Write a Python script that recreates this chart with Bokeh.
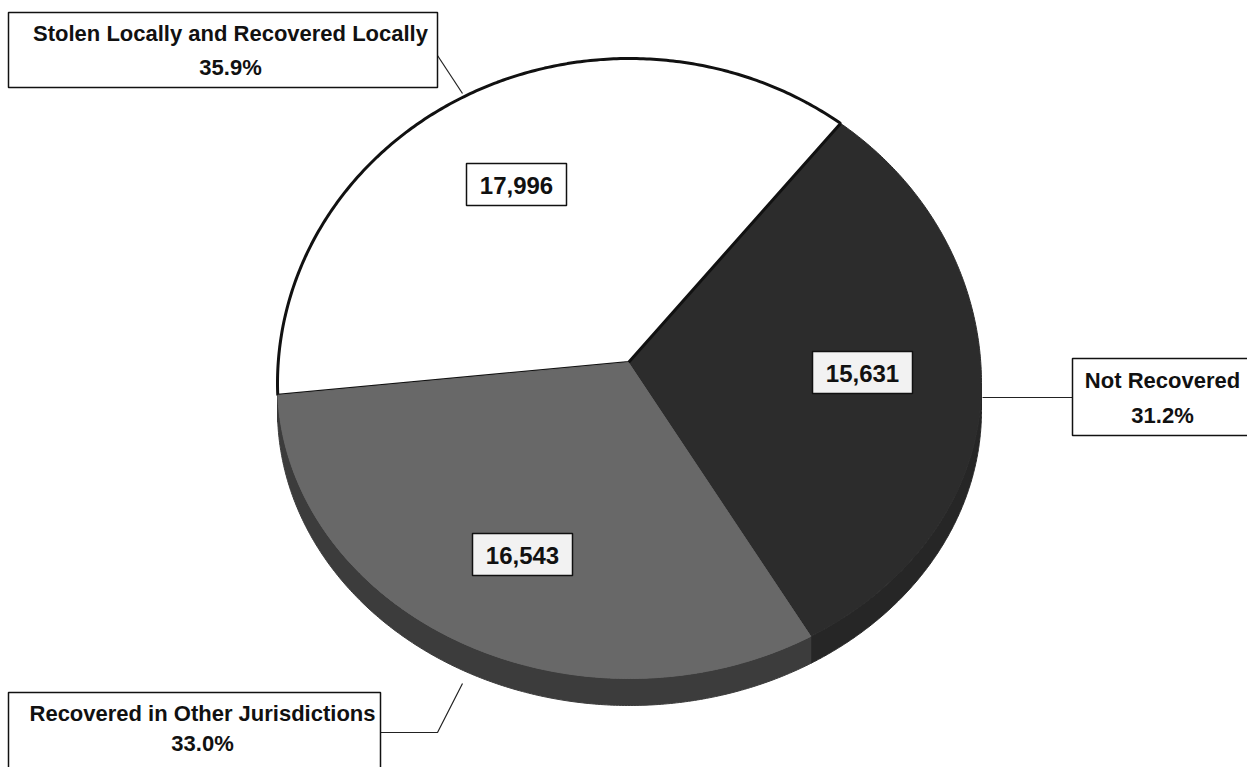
import numpy as np
from bokeh.plotting import figure
from bokeh.models import Range1d
from bokeh.core.properties import value
from bokeh.embed import file_html
from bokeh.resources import INLINE

# ---- data ----
categories = ["Not Recovered", "Stolen Locally and Recovered Locally", "Recovered in Other Jurisdictions"]
counts = [15631, 17996, 16543]

# ---- layout / style ----
W, H = 1247, 767
CX, CY, RX = 629.0, 383.0, 352.0
RY_TOP, RY_BOT = 325.0, 295.0
APX, APY = 628.0, 362.0
DEPTH = 27.0
START_DEG = -59.0
face_colors = ["#2c2c2c", "#ffffff", "#686868"]
side_colors = ["#262626", "#2a2a2a", "#3c3c3c"]
face_lines = [None, "#111111", None]
val_pos = [(862, 372), (516, 184), (522, 554)]
val_fill = ["#f2f2f2", "#ffffff", "#f2f2f2"]
box_lrtb = [(1072, 1260, 358, 435), (8, 437, 12, 87), (8, 380, 692, 780)]
txt_pos = [(1162, 380, 415), (230, 33, 67), (202, 713, 743)]
leaders = [([982, 1072], [397, 397]), ([437, 462], [55, 93]), ([380, 437, 462], [732, 732, 683])]

total = float(sum(counts))
fracs = [c / total for c in counts]
spans = [f * 360.0 for f in fracs]
starts = list(START_DEG + np.concatenate([[0.0], np.cumsum(spans)[:-1]]))

p = figure(width=W, height=H, output_backend="svg", toolbar_location=None,
           x_range=Range1d(0, W), y_range=Range1d(H, 0),
           x_axis_location=None, y_axis_location=None, min_border=0,
           background_fill_color="white", border_fill_color="white")
p.grid.visible = False
p.outline_line_color = None


def arc(a0, a1, dy=0.0):
    t = np.radians(np.linspace(a0, a1, 240))
    s = np.sin(t)
    ry = np.where(s > 0, RY_TOP, RY_BOT)
    return CX + RX * np.cos(t), CY - ry * s + dy


# sides (3D depth), drawn first
for i, (a0, sp) in enumerate(zip(starts, spans)):
    b0 = a0 % 360.0
    b1 = b0 + sp
    for lo, hi in [(180.0, 360.0), (540.0, 720.0)]:
        s, e = max(b0, lo), min(b1, hi)
        if e > s:
            xt, yt = arc(s, e)
            xb, yb = arc(s, e, DEPTH)
            xs = np.concatenate([xt, xb[::-1]])
            ys = np.concatenate([yt, yb[::-1]])
            p.patch(xs, ys, fill_color=side_colors[i], line_color=side_colors[i], line_width=1)

# faces
for i, (a0, sp) in enumerate(zip(starts, spans)):
    xa, ya = arc(a0, a0 + sp)
    xs = np.concatenate([[APX], xa, [APX]])
    ys = np.concatenate([[APY], ya, [APY]])
    if face_lines[i]:
        p.patch(xs, ys, fill_color=face_colors[i], line_color=face_lines[i], line_width=3)
    else:
        p.patch(xs, ys, fill_color=face_colors[i], line_color=face_colors[i], line_width=1)

# value labels
for i, c in enumerate(counts):
    x, y = val_pos[i]
    p.quad(left=x - 50, right=x + 50, top=y - 21, bottom=y + 21,
           fill_color=val_fill[i], line_color="#111111", line_width=1.5)
    p.text(x=[x], y=[y + 1], text=[f"{c:,}"], text_align="center", text_baseline="middle",
           text_font=value("Liberation Sans"), text_font_style="bold",
           text_font_size="24px", text_color="#111111")

# callouts
for i, cat in enumerate(categories):
    l, r, t, b = box_lrtb[i]
    xs, ys = leaders[i]
    p.line(xs, ys, line_color="#222222", line_width=1.2)
    p.quad(left=l, right=r, top=t, bottom=b, fill_color="white", line_color="#111111", line_width=1.5)
    tx, y1, y2 = txt_pos[i]
    pct = f"{fracs[i] * 100:.1f}%"
    for txt, yy in [(cat, y1), (pct, y2)]:
        p.text(x=[tx], y=[yy], text=[txt], text_align="center", text_baseline="middle",
               text_font=value("Liberation Sans"), text_font_style="bold",
               text_font_size="22px", text_color="#111111")

open("out.html", "w").write(file_html(p, INLINE))
